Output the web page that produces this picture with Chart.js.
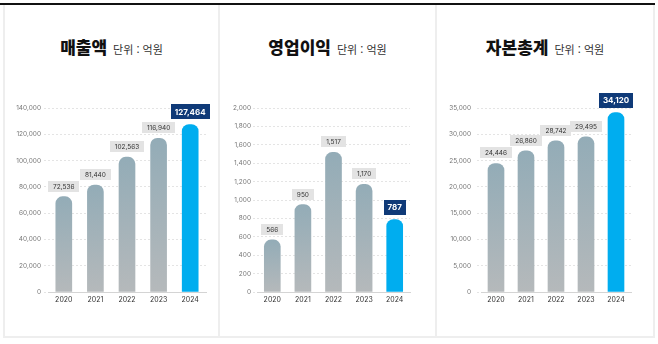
<!DOCTYPE html>
<html lang="ko">
<head>
<meta charset="utf-8">
<script src="https://cdn.jsdelivr.net/npm/chart.js@4.4.1/dist/chart.umd.min.js"></script>
<style>
  html, body { margin: 0; padding: 0; background: #fff; }
  body { width: 658px; height: 344px; position: relative; overflow: hidden;
         font-family: Inter, "Noto Sans CJK KR", sans-serif; }
  .topline { position: absolute; left: 0; top: 3px; width: 655px; height: 2px; background: #111; }
  .frame { position: absolute; left: 3px; top: 5px; width: 648px; height: 331px;
           border: 2px solid #eeeeee; border-top: none; }
  .divider { position: absolute; top: 5px; width: 2px; height: 333px; background: #eeeeee; }
  .title { position: absolute; top: 37px; display: flex; justify-content: center;
           align-items: baseline; gap: 6px; font-family: "Noto Sans CJK KR", sans-serif; }
  .title b { font-size: 17px; font-weight: 900; color: #111; line-height: 20px; }
  .title span { font-size: 11px; color: #333; }
  canvas { position: absolute; }
</style>
</head>
<body>
<div class="topline"></div>
<div class="frame"></div>
<div class="divider" style="left:218px"></div>
<div class="divider" style="left:435px"></div>

<div class="title" style="left:5px;width:213px"><b>매출액</b><span>단위 : 억원</span></div>
<div class="title" style="left:220px;width:215px"><b>영업이익</b><span>단위 : 억원</span></div>
<div class="title" style="left:437px;width:216px"><b>자본총계</b><span>단위 : 억원</span></div>

<canvas id="c0" width="212" height="227" style="left:5px;top:88px"></canvas>
<canvas id="c1" width="213" height="227" style="left:221px;top:88px"></canvas>
<canvas id="c2" width="215" height="227" style="left:438px;top:88px"></canvas>

<script>
// data
const years = ["2020", "2021", "2022", "2023", "2024"];
const revenue = [72536, 81440, 102563, 116940, 127464];
const operatingProfit = [566, 950, 1517, 1170, 787];
const totalEquity = [24446, 26860, 28742, 29495, 34120];
const yMax = [140000, 2000, 35000];
const yStep = [20000, 200, 5000];
const highlightIndex = 4;

const NUM_FONT = 'Inter, "Noto Sans CJK KR", sans-serif';

// per panel layout: y axis width, right padding, tick label padding
const panels = [
  { id: "c0", values: revenue, yWidth: 43, padRight: 11, tickPad: 3 },
  { id: "c1", values: operatingProfit, yWidth: 36, padRight: 24, tickPad: 2 },
  { id: "c2", values: totalEquity, yWidth: 43, padRight: 22, tickPad: 6 }
];

// Bar gradient, one per bar
function barColor(ctx) {
  const chart = ctx.chart;
  if (ctx.dataIndex === highlightIndex) return "#00adef";
  if (!chart.chartArea) return "#a3b3ba";
  const y = chart.scales.y;
  const top = y.getPixelForValue(ctx.raw);
  const bottom = y.getPixelForValue(0);
  const g = chart.ctx.createLinearGradient(0, top, 0, bottom);
  g.addColorStop(0, "#93acb7");
  g.addColorStop(1, "#b5b9bb");
  return g;
}

// Value boxes above the bars
const valueLabels = {
  id: "valueLabels",
  afterDatasetsDraw(chart) {
    const c = chart.ctx;
    const data = chart.data.datasets[0].data;
    chart.getDatasetMeta(0).data.forEach(function (bar, i) {
      const hi = i === highlightIndex;
      const text = data[i].toLocaleString("en-US");
      c.save();
      c.font = hi ? "bold 8px " + NUM_FONT : "6.5px " + NUM_FONT;
      const w = c.measureText(text).width + (hi ? 8 : 10);
      const h = hi ? 15 : 11;
      const bottom = bar.y - 5;
      c.fillStyle = hi ? "#0f3a78" : "#e3e3e3";
      c.fillRect(Math.round(bar.x - w / 2), Math.round(bottom - h), Math.round(w), h);
      c.fillStyle = hi ? "#ffffff" : "#333333";
      c.textAlign = "center";
      c.textBaseline = "middle";
      c.fillText(text, bar.x, bottom - h / 2 + 0.5);
      c.restore();
    });
  }
};

panels.forEach(function (p, k) {
  new Chart(document.getElementById(p.id), {
    type: "bar",
    data: {
      labels: years,
      datasets: [{
        data: p.values,
        backgroundColor: barColor,
        barThickness: 16,
        borderRadius: { topLeft: 7, topRight: 7, bottomLeft: 0, bottomRight: 0 },
        borderSkipped: false
      }]
    },
    options: {
      responsive: false,
      animation: false,
      layout: { padding: { top: 20, right: p.padRight, bottom: 0, left: 0 } },
      plugins: { legend: { display: false }, tooltip: { enabled: false } },
      scales: {
        x: {
          grid: { display: false, drawTicks: false },
          border: { color: "#d4d4d4", width: 1 },
          ticks: { color: "#333", font: { size: 7, family: NUM_FONT }, padding: 4 },
          afterFit: function (s) { s.height = 23; }
        },
        y: {
          min: 0,
          max: yMax[k],
          border: { display: false, dash: [2, 2] },
          grid: {
            color: "#e4e4e4",
            tickLength: 4,
            tickColor: "#e4e4e4",
            tickBorderDash: [2, 2]
          },
          ticks: {
            stepSize: yStep[k],
            color: "#777",
            padding: p.tickPad,
            font: { size: 6.5, family: NUM_FONT },
            callback: function (v) { return v.toLocaleString("en-US"); }
          },
          afterFit: function (s) { s.width = p.yWidth; }
        }
      }
    },
    plugins: [valueLabels]
  });
});
</script>
</body>
</html>
